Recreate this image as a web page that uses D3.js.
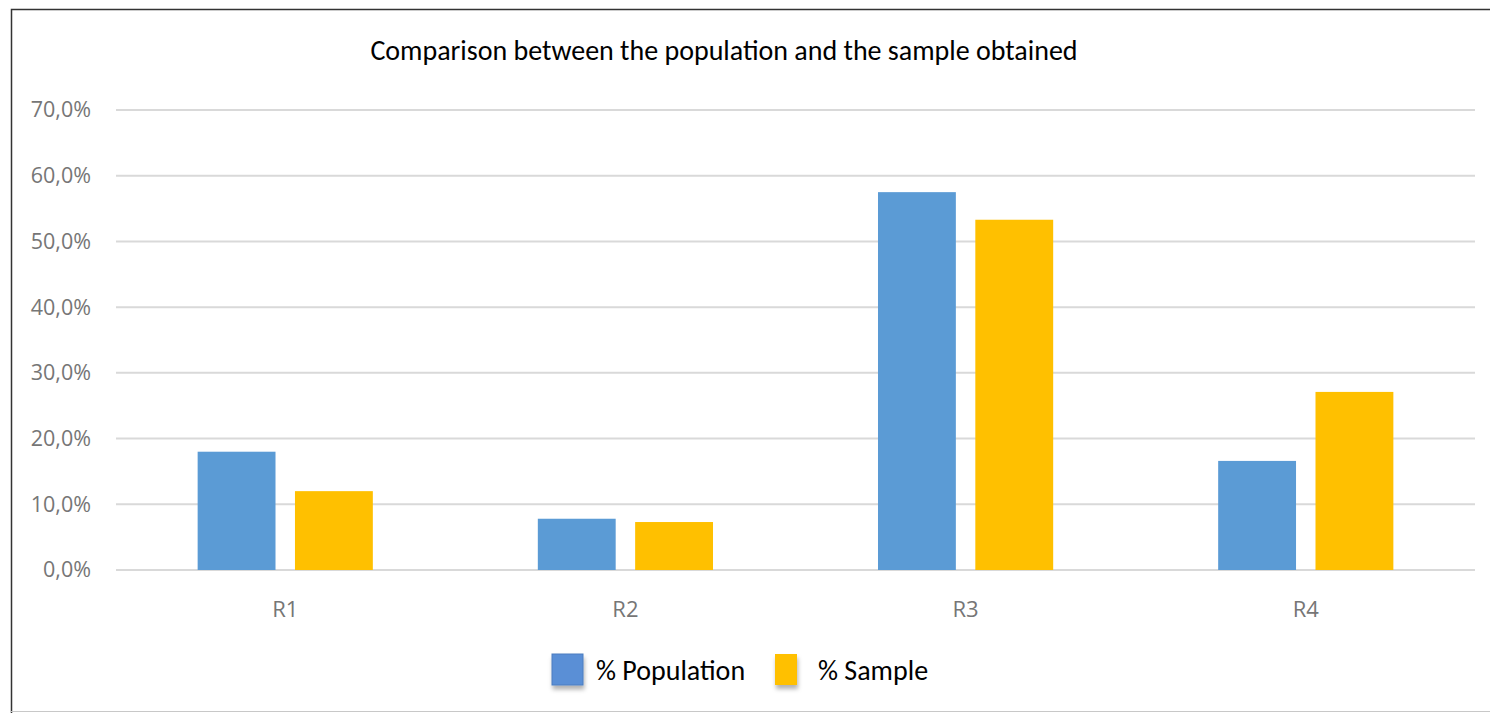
<!doctype html>
<head>
  <meta charset="utf-8">
  <script src="https://cdnjs.cloudflare.com/ajax/libs/d3/7.8.2/d3.min.js"></script>
</head>
<style>
    body { margin: 0; background: white; }
    svg { display: block; }
</style>
<body>
<div id="chart"></div>
<script>
    // Datos del gráfico
    const categories = ["R1", "R2", "R3", "R4"];
    const seriesNames = ["% Population", "% Sample"];
    const population = [18.0, 7.8, 57.5, 16.6];
    const sample = [12.0, 7.3, 53.3, 27.1];
    const yTicks = [0, 10, 20, 30, 40, 50, 60, 70];
    const colors = ["#5b9bd5", "#ffc000"];

    const width = 1490, height = 713;
    const margin = {left: 116, right: 15, top: 110, bottom: 143};

    const svg = d3.select('#chart').append('svg')
        .attr('width', width)
        .attr('height', height);

    const defs = svg.append('defs');
    const filter = defs.append('filter').attr('id', 'shadow')
        .attr('x', '-30%').attr('y', '-30%').attr('width', '170%').attr('height', '170%');
    filter.append('feDropShadow')
        .attr('dx', 1).attr('dy', 4).attr('stdDeviation', 2)
        .attr('flood-color', '#000').attr('flood-opacity', 0.3);

    // Marco
    svg.append('path')
        .attr('d', `M11.5,${height} V9.5 H${width}`)
        .attr('fill', 'none').attr('stroke', '#333').attr('stroke-width', 1.5);
    svg.append('line')
        .attr('x1', 11).attr('x2', width).attr('y1', 711.5).attr('y2', 711.5)
        .attr('stroke', '#c8c8c8');

    const x = d3.scaleBand()
        .domain(categories)
        .range([margin.left, width - margin.right])
        .paddingInner(0.485)
        .paddingOuter(0.24);

    const x1 = d3.scaleBand()
        .domain(seriesNames)
        .range([0, x.bandwidth()])
        .paddingInner(0.2);

    const y = d3.scaleLinear()
        .domain([0, 70])
        .range([height - margin.bottom, margin.top]);

    // Líneas de la cuadrícula
    svg.append('g')
        .selectAll('line')
        .data(yTicks)
        .enter()
        .append('line')
        .attr('x1', margin.left)
        .attr('x2', width - margin.right)
        .attr('y1', d => y(d))
        .attr('y2', d => y(d))
        .attr('stroke', '#d9d9d9')
        .attr('stroke-width', 2);

    // Etiquetas del eje Y
    const yAxis = svg.append('g')
        .attr('transform', `translate(${margin.left - 22},0)`)
        .call(d3.axisLeft(y).tickValues(yTicks).tickSize(0)
            .tickFormat(d => d3.format('.1f')(d).replace('.', ',') + '%'));
    yAxis.select('.domain').remove();
    yAxis.selectAll('text')
        .attr('font-family', "'Open Sans', sans-serif")
        .attr('font-size', 21.5)
        .attr('fill', '#767676')
        .attr('dx', 0);

    // Barras
    const rows = categories.map((c, i) => ({cat: c, values: [population[i], sample[i]]}));
    svg.append('g')
        .selectAll('g')
        .data(rows)
        .enter()
        .append('g')
        .attr('transform', d => `translate(${x(d.cat)},0)`)
        .selectAll('rect')
        .data(d => d.values.map((v, i) => ({name: seriesNames[i], value: v, i})))
        .enter()
        .append('rect')
        .attr('x', d => x1(d.name))
        .attr('width', x1.bandwidth())
        .attr('y', d => y(d.value))
        .attr('height', d => y(0) - y(d.value))
        .attr('fill', d => colors[d.i]);

    // Etiquetas del eje X
    const xAxis = svg.append('g')
        .attr('transform', `translate(0,${y(0) + 28})`)
        .call(d3.axisBottom(x).tickSize(0));
    xAxis.select('.domain').remove();
    xAxis.selectAll('text')
        .attr('font-family', "'Open Sans', sans-serif")
        .attr('font-size', 22)
        .attr('fill', '#767676');

    // Título
    svg.append('text')
        .attr('x', 724)
        .attr('y', 60)
        .attr('text-anchor', 'middle')
        .attr('font-family', "Carlito, 'Noto Sans', sans-serif")
        .attr('font-size', 28)
        .attr('fill', '#000')
        .text('Comparison between the population and the sample obtained');

    // Leyenda
    const legendItems = [
        {name: seriesNames[0], x: 552, w: 31, color: '#5a8fd6', text: 596},
        {name: seriesNames[1], x: 775, w: 22, color: colors[1], text: 818}
    ];
    const legend = svg.append('g');
    legend.selectAll('rect')
        .data(legendItems)
        .enter()
        .append('rect')
        .attr('x', d => d.x)
        .attr('y', 654)
        .attr('width', d => d.w)
        .attr('height', 31)
        .attr('fill', d => d.color)
        .attr('stroke', (d, i) => i === 0 ? '#4a7cc0' : 'none')
        .attr('filter', 'url(#shadow)');
    legend.selectAll('text')
        .data(legendItems)
        .enter()
        .append('text')
        .attr('x', d => d.text)
        .attr('y', 680)
        .attr('font-family', "Carlito, 'Noto Sans', sans-serif")
        .attr('font-size', 28)
        .attr('fill', '#000')
        .text(d => d.name);
</script>
</body>
